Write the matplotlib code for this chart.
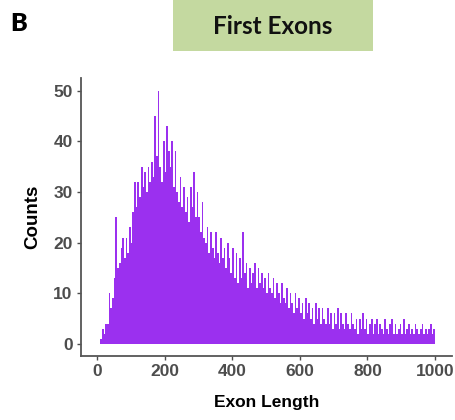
import matplotlib
matplotlib.use("Agg")
import matplotlib.pyplot as plt
from matplotlib.patches import Rectangle
from matplotlib import font_manager

# Histogram of first-exon lengths: 5-unit bins starting at 10
bin_start = 10
bin_width = 5
counts = [
    1, 3, 2, 4, 4, 10, 7, 9, 13, 25,          # 10-55
    15, 16, 19, 21, 17, 21, 18, 23, 20, 26,   # 60-105
    32, 27, 32, 29, 35, 31, 34, 30, 35, 32,   # 110-155
    36, 33, 45, 37, 50, 35, 32, 40, 34, 43,   # 160-205
    38, 35, 40, 31, 38, 30, 28, 33, 27, 31,   # 210-255
    26, 29, 24, 31, 27, 34, 25, 30, 25, 22,   # 260-305
    28, 21, 20, 23, 18, 22, 19, 17, 22, 18,   # 310-355
    16, 21, 17, 19, 15, 20, 17, 14, 19, 13,   # 360-405
    18, 12, 17, 13, 22, 14, 16, 11, 15, 12,   # 410-455
    14, 16, 11, 15, 12, 14, 11, 13, 10, 14,   # 460-505
    11, 10, 13, 9, 12, 10, 8, 12, 9, 8,       # 510-555
    11, 7, 10, 8, 6, 10, 7, 9, 6, 8,          # 560-605
    5, 9, 6, 8, 5, 7, 4, 8, 5, 7,             # 610-655
    4, 7, 5, 4, 7, 4, 6, 3, 6, 4,             # 660-705
    7, 3, 6, 4, 3, 6, 4, 3, 6, 4,             # 710-755
    3, 5, 2, 5, 3, 6, 3, 5, 2, 4,             # 760-805
    5, 2, 4, 5, 2, 4, 3, 2, 5, 3,             # 810-855
    2, 4, 5, 2, 4, 2, 3, 4, 2, 5,             # 860-905
    2, 3, 4, 2, 3, 2, 4, 3, 2, 3,             # 910-955
    4, 2, 3, 2, 3, 4, 2, 3, 4, 2,             # 960-1005
]
edges = [bin_start + i * bin_width for i in range(len(counts))]
keep = [i for i, e in enumerate(edges) if e < 1000]
edges = [edges[i] for i in keep]
counts = [counts[i] for i in keep]

x_ticks = [0, 200, 400, 600, 800, 1000]
y_ticks = [0, 10, 20, 30, 40, 50]

W, H = 456, 420
fig = plt.figure(figsize=(W / 100, H / 100), dpi=100)

left, right, bottom, top = 81, 452, 356, 78
ax = fig.add_axes([left / W, (H - bottom) / H, (right - left) / W, (bottom - top) / H])

ax.bar(edges, counts, width=bin_width, align="edge", color="#9b30ef",
       linewidth=0, antialiased=True)

ax.set_xlim(-47, 1050)
ax.set_ylim(-2.4, 52.5)
ax.set_xticks(x_ticks)
ax.set_yticks(y_ticks)

grey = "#4d4d4d"
for s in ["top", "right"]:
    ax.spines[s].set_visible(False)
for s in ["left", "bottom"]:
    ax.spines[s].set_color("#555555")
    ax.spines[s].set_linewidth(1.3)

avail = {f.name for f in font_manager.fontManager.ttflist}
tick_font = ["Liberation Sans Narrow"] if "Liberation Sans Narrow" in avail else ["Liberation Sans", "DejaVu Sans"]
tick_size = 13.5 if "Liberation Sans Narrow" in avail else 12.5
ax.tick_params(axis="both", colors=grey, length=3, width=1, labelsize=tick_size, pad=3)
for lab in ax.get_xticklabels() + ax.get_yticklabels():
    lab.set_fontweight("bold")
    lab.set_family(tick_font)
    lab.set_color(grey)

ax.set_xlabel("Exon Length", fontsize=12.5, fontweight="bold", family=["Liberation Sans", "DejaVu Sans"],
              labelpad=11)
ax.set_ylabel("Counts", fontsize=13.5, fontweight="bold", family=["Liberation Sans", "DejaVu Sans"],
              labelpad=9)

# Title box
fig.patches.append(Rectangle((173 / W, 1 - 51 / H), 200 / W, 51 / H, transform=fig.transFigure,
                             facecolor="#c4d9a0", edgecolor="none"))
fig.text(273 / W, 1 - 26 / H, "First Exons", ha="center", va="center", fontsize=17.5,
         fontweight="bold", family=["Lato", "DejaVu Sans"], color="#111111")
fig.text(19 / W, 1 - 24 / H, "B", ha="center", va="center", fontsize=18,
         fontweight="heavy", family=["Lato", "DejaVu Sans"], color="#000000")

fig.savefig("out.png", dpi=100)
